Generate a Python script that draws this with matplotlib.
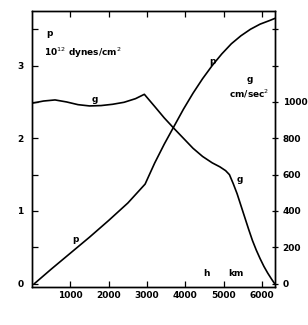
import matplotlib
matplotlib.use("Agg")
import matplotlib.pyplot as plt
from matplotlib.ticker import FixedLocator

# depth h (km) and pressure p (10^12 dynes/cm^2)
p_depth = [60, 500, 1000, 1500, 2000, 2500, 2950, 3200, 3450, 3700, 3950, 4200,
           4450, 4700, 4950, 5200, 5450, 5700, 5950, 6200, 6340]
p_value = [0.0, 0.2, 0.42, 0.64, 0.87, 1.11, 1.37, 1.66, 1.92, 2.16, 2.40, 2.62,
           2.82, 3.00, 3.16, 3.30, 3.41, 3.50, 3.57, 3.62, 3.65]

# depth h (km) and gravity g (cm/sec^2)
g_depth = [0, 300, 600, 900, 1200, 1500, 1800, 2100, 2400, 2700, 2930,
           3200, 3450, 3700, 3950, 4200, 4450, 4700, 4900, 5050, 5150,
           5250, 5350, 5450, 5550, 5650, 5750, 5850, 5950, 6050, 6150, 6250, 6330]
g_value = [993, 1005, 1011, 1000, 985, 978, 980, 987, 998, 1018, 1042,
           975, 912, 855, 800, 745, 700, 665, 643, 622, 600,
           550, 495, 430, 365, 300, 238, 185, 138, 95, 58, 25, 0]

x_ticks = [1000, 2000, 3000, 4000, 5000, 6000]
p_ticks = [0, 1, 2, 3]
g_ticks = [0, 200, 400, 600, 800, 1000, 1200, 1400]
g_tick_labels = ["0", "200", "400", "600", "800", "1000", "", ""]

fig = plt.figure(figsize=(3.08, 3.25), dpi=100)
ax = fig.add_axes([0.104, 0.117, 0.789, 0.849])
ax2 = ax.twinx()

ax.plot(p_depth, p_value, color="black", lw=1.2)
ax2.plot(g_depth, g_value, color="black", lw=1.2)

ax.set_xlim(0, 6340)
ax.set_ylim(-0.045, 3.75)
ax2.set_ylim(-18, 1500)

ax.set_xticks(x_ticks)
ax.set_xticklabels([str(v) for v in x_ticks], fontsize=6.5, fontweight="bold")
ax.set_yticks(p_ticks)
ax.set_yticklabels([str(v) for v in p_ticks], fontsize=6.5, fontweight="bold")
ax.yaxis.set_minor_locator(FixedLocator([0.5, 1.5, 2.5, 3.5]))
ax.tick_params(axis="both", which="both", direction="in", length=4, width=0.9,
               top=True, pad=3)
ax.tick_params(axis="y", which="major", pad=6)

ax2.set_yticks(g_ticks)
ax2.set_yticklabels(g_tick_labels, fontsize=6.5, fontweight="bold")
ax2.tick_params(axis="y", direction="inout", length=5, width=0.9, pad=3)

for a in (ax, ax2):
    for s in a.spines.values():
        s.set_linewidth(1.0)

txt = dict(fontsize=6.5, fontweight="bold", transform=fig.transFigure)
fig.text(46 / 308, 1 - 33 / 325, "p", ha="left", va="center", **txt)
fig.text(44 / 308, 1 - 53 / 325, "10$^{12}$ dynes/cm$^2$", ha="left", va="center", **txt)
fig.text(250 / 308, 1 - 80 / 325, "g", ha="center", va="center", **txt)
fig.text(249 / 308, 1 - 94 / 325, "cm/sec$^2$", ha="center", va="center", **txt)
fig.text(212 / 308, 1 - 62 / 325, "p", ha="center", va="center", **txt)
fig.text(75 / 308, 1 - 240 / 325, "p", ha="center", va="center", **txt)
fig.text(95 / 308, 1 - 100 / 325, "g", ha="center", va="center", **txt)
fig.text(240 / 308, 1 - 180 / 325, "g", ha="center", va="center", **txt)
fig.text(207 / 308, 1 - 274 / 325, "h", ha="center", va="center", **txt)
fig.text(236 / 308, 1 - 274 / 325, "km", ha="center", va="center", **txt)

fig.savefig("out.png", dpi=100)
